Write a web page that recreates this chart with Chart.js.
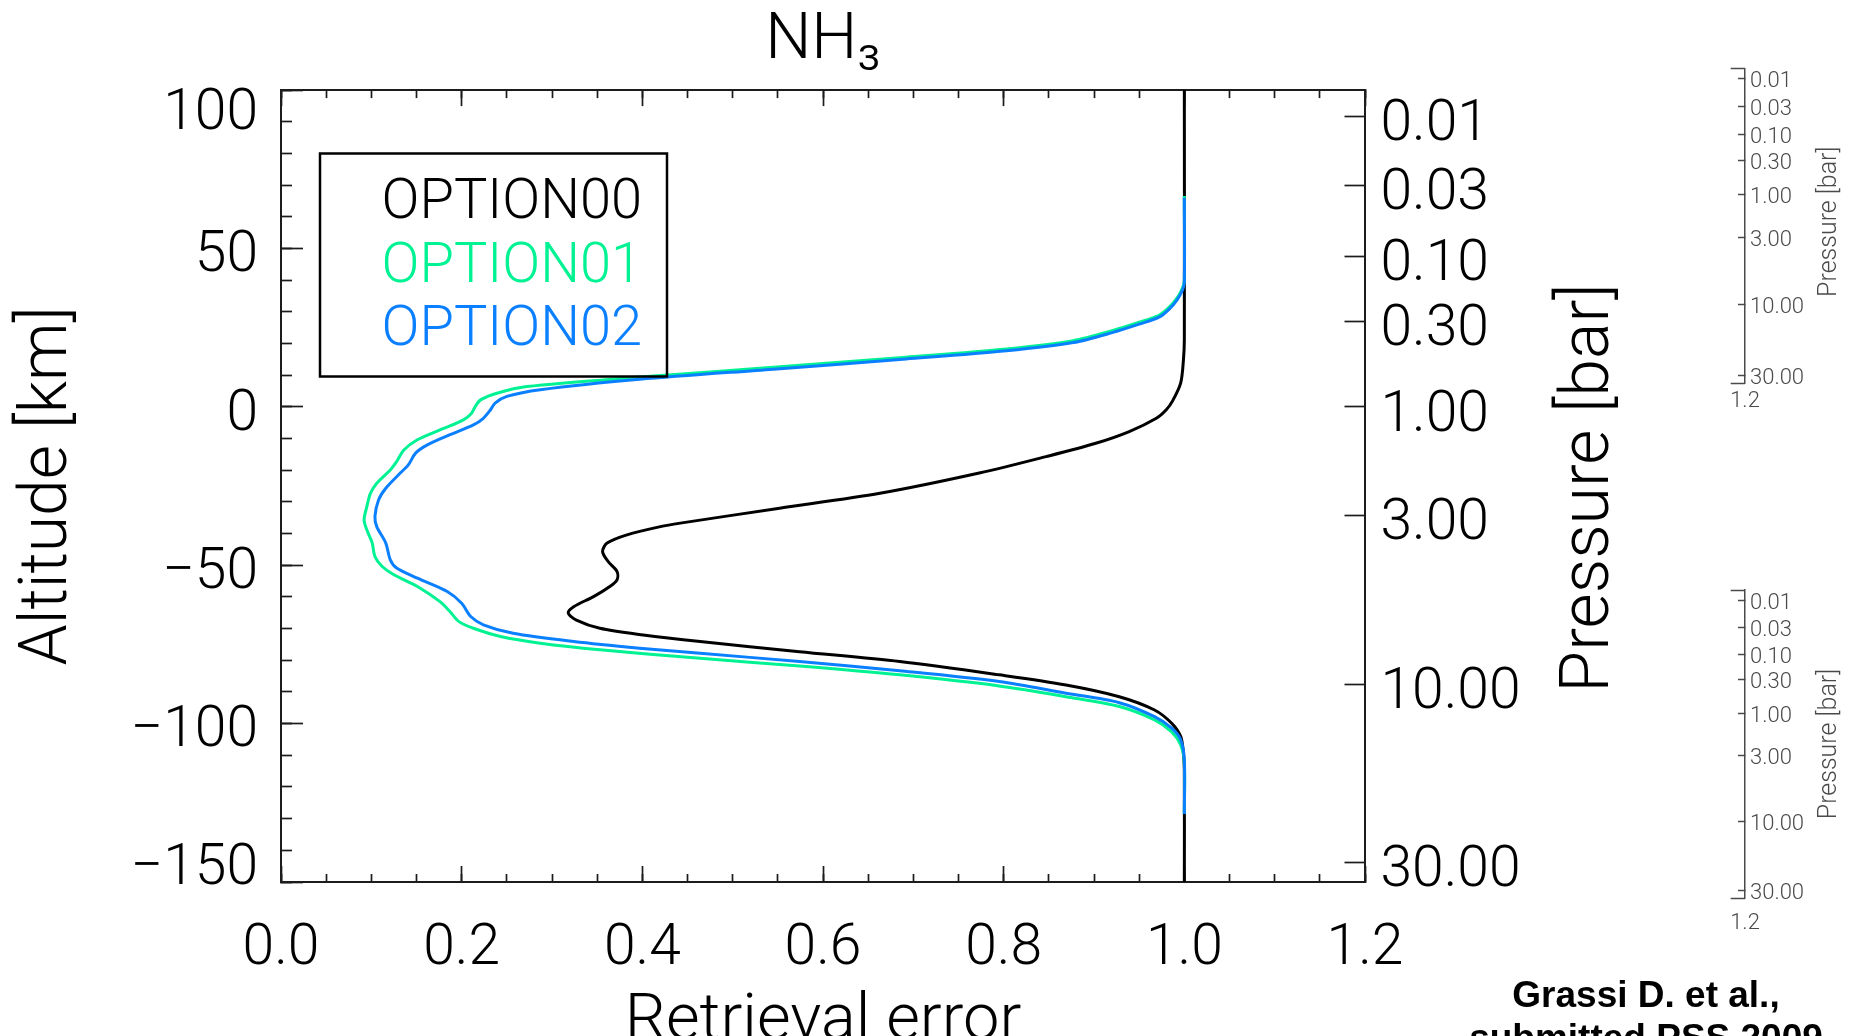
<!DOCTYPE html>
<html>
<head>
<meta charset="utf-8">
<script src="https://cdn.jsdelivr.net/npm/chart.js@4.4.1/dist/chart.umd.min.js"></script>
<style>
html,body{margin:0;padding:0;background:#fff;overflow:hidden;width:1849px;height:1036px;}
canvas{position:absolute;}
#main{left:0;top:0;}
#insetA{left:1690px;top:40px;}
#insetB{left:1690px;top:560px;}
</style>
</head>
<body>
<canvas id="main" width="1849" height="1036"></canvas>
<canvas id="insetA" width="159" height="380"></canvas>
<canvas id="insetB" width="159" height="380"></canvas>
<script>
// ---------------- data ----------------
const seriesLabels = ['OPTION00', 'OPTION01', 'OPTION02'];
const seriesColors = ['#000000', '#00f293', '#0a7fff'];

const errorTicks = [0, 0.2, 0.4, 0.6, 0.8, 1.0, 1.2];
const errorTickLabels = ['0.0', '0.2', '0.4', '0.6', '0.8', '1.0', '1.2'];
const altitudeTicks = [100, 50, 0, -50, -100, -150];
const altitudeTickLabels = ['100', '50', '0', '\u221250', '\u2212100', '\u2212150'];
const pressureTickLabels = ['0.01', '0.03', '0.10', '0.30', '1.00', '3.00', '10.00', '30.00'];
const pressureTickAltitudes = [91.7, 69.9, 47.5, 27.1, 0, -34.2, -87.6, -143.7];

// OPTION00 (black)
const opt00Err = [1.000, 1.000, 0.999, 0.996, 0.987, 0.980, 0.969, 0.939, 0.902, 0.847,
  0.773, 0.663, 0.552, 0.442, 0.420, 0.383, 0.361, 0.356, 0.362, 0.372,
  0.372, 0.364, 0.346, 0.324, 0.318, 0.327, 0.353, 0.401, 0.464, 0.574,
  0.685, 0.795, 0.869, 0.928, 0.967, 0.986, 0.996, 0.999, 1.000, 1.000];
const opt00Alt = [100, 21.2, 14.8, 7.6, 1.9, -0.9, -3.6, -7.8, -11.5, -15.7,
  -20.9, -27.3, -32.0, -36.7, -37.8, -40.4, -43.0, -45.7, -48.8, -52.0,
  -54.6, -56.7, -59.9, -63.1, -65.1, -67.3, -69.9, -72.0, -74.1, -77.3,
  -80.4, -84.6, -87.8, -91.5, -95.7, -99.9, -104.1, -109.3, -114.6, -150];

// OPTION01 (green)
const opt01Err = [1.000, 1.000, 0.998, 0.992, 0.983, 0.972, 0.950, 0.921, 0.877, 0.803,
  0.692, 0.545, 0.397, 0.272, 0.239, 0.221, 0.215, 0.211, 0.202, 0.176,
  0.151, 0.136, 0.128, 0.121, 0.106, 0.099, 0.095, 0.092, 0.095, 0.101,
  0.104, 0.112, 0.125, 0.151, 0.176, 0.187, 0.197, 0.213, 0.243, 0.287,
  0.353, 0.464, 0.574, 0.685, 0.795, 0.869, 0.928, 0.967, 0.986, 0.996,
  1.000, 1.000];
const opt01Alt = [66.6, 39.8, 37.6, 34.4, 31.4, 28.9, 26.7, 24.1, 20.9, 18.3,
  15.7, 12.5, 9.4, 6.4, 4.3, 2.2, 0.1, -2.0, -4.1, -7.3,
  -10.4, -13.6, -17.3, -19.9, -24.1, -27.3, -31.5, -35.7, -38.8, -43.0,
  -47.3, -50.4, -53.0, -56.7, -61.5, -64.6, -67.8, -69.9, -72.5, -74.6,
  -76.7, -79.4, -81.8, -84.6, -88.1, -91.5, -94.6, -98.8, -102.6, -106.7,
  -112.4, -128.5];

// OPTION02 (blue)
const opt02Err = [1.000, 1.000, 0.998, 0.992, 0.983, 0.972, 0.950, 0.921, 0.877, 0.803,
  0.692, 0.545, 0.397, 0.287, 0.250, 0.237, 0.232, 0.224, 0.213, 0.187,
  0.162, 0.149, 0.141, 0.132, 0.116, 0.108, 0.104, 0.106, 0.116, 0.121,
  0.128, 0.151, 0.184, 0.200, 0.210, 0.224, 0.257, 0.324, 0.397, 0.464,
  0.574, 0.685, 0.795, 0.869, 0.928, 0.967, 0.986, 0.996, 1.000, 1.000];
const opt02Alt = [66.0, 39.2, 36.9, 33.8, 30.8, 28.3, 26.1, 23.5, 20.3, 17.7,
  15.1, 11.9, 8.7, 5.4, 3.3, 1.2, -0.9, -3.6, -5.7, -8.8,
  -12.0, -14.6, -18.3, -20.9, -25.7, -29.4, -34.6, -37.8, -43.0, -48.3,
  -50.9, -54.1, -58.3, -62.0, -66.2, -68.8, -71.5, -74.1, -76.2, -77.8,
  -80.4, -83.3, -86.7, -90.4, -93.4, -97.8, -101.4, -105.1, -111.5, -128.5];

// ---------------- helpers ----------------
const FONT = 'Roboto, "DejaVu Sans", sans-serif';
Chart.defaults.font.family = FONT;
Chart.defaults.font.weight = '300';
Chart.defaults.color = '#000';

const FRAME = '#1c1c1c';
const INSET = '#4a4a4a';
const W = 1849, H = 1036;
const AREA = { left: 281, right: 1365, top: 90, bottom: 882 };
const TICK_FONT = 57;

function pts(xs, ys) { return xs.map((x, i) => ({ x: x, y: ys[i] })); }
function setTicks(values) { return s => { s.ticks = values.map(v => ({ value: v })); }; }
function stepTicks(step) {
  return s => {
    const n = Math.round((s.max - s.min) / step);
    const t = [];
    for (let i = 0; i <= n; i++) t.push({ value: s.min + i * step });
    s.ticks = t;
  };
}
function fixW(w) { return s => { s.width = w; }; }
function fixH(h) { return s => { s.height = h; }; }

const extraTextPlugin = {
  id: 'extraText',
  afterDraw(chart, args, opts) {
    const ctx = chart.ctx;
    (opts.items || []).forEach(it => {
      ctx.save();
      ctx.translate(it.x, it.y);
      ctx.rotate(it.rotation || 0);
      ctx.font = it.font;
      ctx.fillStyle = it.color || '#000';
      ctx.textAlign = it.align || 'center';
      ctx.textBaseline = it.baseline || 'middle';
      ctx.fillText(it.text, 0, 0);
      ctx.restore();
    });
  }
};

const boxLegendPlugin = {
  id: 'boxLegend',
  afterDraw(chart, args, o) {
    const ctx = chart.ctx;
    ctx.save();
    ctx.lineWidth = o.lineWidth;
    ctx.strokeStyle = o.borderColor;
    ctx.strokeRect(o.left, o.top, o.width, o.height);
    ctx.font = o.font;
    ctx.textAlign = 'left';
    ctx.textBaseline = 'middle';
    chart.data.datasets.forEach((ds, i) => {
      ctx.fillStyle = ds.borderColor;
      ctx.fillText(ds.label, o.textX, o.firstY + i * o.rowStep);
    });
    ctx.restore();
  }
};

// tick-mark only axis
function tickAxis(position, min, max, build, len, border, weight) {
  const horizontal = position === 'top' || position === 'bottom';
  return {
    type: 'linear', position: position, weight: weight || 0, min: min, max: max,
    afterBuildTicks: build,
    afterFit: horizontal ? fixH(0) : fixW(0),
    ticks: { display: false },
    grid: { display: true, drawOnChartArea: false, drawTicks: true, tickLength: len, tickWidth: 1.7, tickColor: FRAME },
    border: { display: border, color: FRAME, width: 2 }
  };
}

// ---------------- main chart ----------------
const edgeShiftTop = 7.7;     // km, keeps extreme altitude labels inside the frame
const edgeShiftBottom = 3.9;  // km
const baseShift = 2.7;        // km

new Chart(document.getElementById('main'), {
  type: 'scatter',
  data: {
    datasets: [
      { label: seriesLabels[0], data: pts(opt00Err, opt00Alt), borderColor: seriesColors[0], order: 3 },
      { label: seriesLabels[1], data: pts(opt01Err, opt01Alt), borderColor: seriesColors[1], order: 2 },
      { label: seriesLabels[2], data: pts(opt02Err, opt02Alt), borderColor: seriesColors[2], order: 1 }
    ].map(d => Object.assign(d, {
      showLine: true, pointRadius: 0, borderWidth: 3, tension: 0.3, fill: false,
      xAxisID: 'x', yAxisID: 'y'
    }))
  },
  options: {
    responsive: false, animation: false, devicePixelRatio: 1, events: [],
    layout: { padding: 0 },
    plugins: {
      legend: { display: false },
      tooltip: { enabled: false },
      title: {
        display: true, text: 'NH\u2083', fullSize: false, color: '#000',
        font: { size: 65, weight: '300', lineHeight: 1.14 },
        padding: { top: 5, bottom: 11 }
      },
      boxLegend: {
        left: 320, top: 153.5, width: 347, height: 223, lineWidth: 2.5, borderColor: '#000',
        font: '300 56px ' + FONT, textX: 381.5, firstY: 204, rowStep: 63.7
      },
      extraText: {
        items: [
          { text: 'Pressure [bar]', x: 1591, y: 488, rotation: -Math.PI / 2, font: '300 68px ' + FONT },
          { text: 'Grassi D. et al.,', x: 1646, y: 1006.5, baseline: 'alphabetic', font: 'bold 37px "Liberation Sans", Arial, sans-serif' },
          { text: 'submitted PSS 2009', x: 1646, y: 1050, baseline: 'alphabetic', font: 'bold 37px "Liberation Sans", Arial, sans-serif' }
        ]
      }
    },
    scales: {
      x: {
        type: 'linear', position: 'bottom', weight: 10, min: 0, max: 1.2,
        afterBuildTicks: setTicks(errorTicks),
        afterFit: fixH(H - AREA.bottom),
        ticks: { autoSkip: false, minRotation: 0, maxRotation: 0, font: { size: TICK_FONT }, padding: 49.6,
                 callback: (v, i) => errorTickLabels[i] },
        grid: { display: true, drawOnChartArea: false, drawTicks: true, tickLength: -16, tickWidth: 1.7, tickColor: FRAME },
        border: { display: true, color: FRAME, width: 2 },
        title: { display: true, text: 'Retrieval error', color: '#000', font: { size: 65, lineHeight: 0.4 }, padding: 0 }
      },
      xMinor: tickAxis('bottom', 0, 1.2, stepTicks(0.05), -8, false),
      xTop: tickAxis('top', 0, 1.2, setTicks(errorTicks), -16, true),
      xTopMinor: tickAxis('top', 0, 1.2, stepTicks(0.05), -8, false),
      y: tickAxis('left', -150, 100, setTicks(altitudeTicks), -22, true),
      yMinor: tickAxis('left', -150, 100, stepTicks(10), -11, false),
      yLab: {
        type: 'linear', position: 'left', weight: 10, min: -150, max: 100,
        afterBuildTicks: s => {
          s.ticks = altitudeTicks.map(v => ({
            value: v === s.max ? v - edgeShiftTop : (v === s.min ? v + edgeShiftBottom : v - baseShift)
          }));
        },
        afterFit: fixW(AREA.left),
        ticks: { autoSkip: false, font: { size: TICK_FONT }, padding: 23, callback: (v, i) => altitudeTickLabels[i] },
        grid: { display: false, drawTicks: false },
        border: { display: false },
        title: { display: true, text: 'Altitude [km]', color: '#000', font: { size: 66 }, padding: { top: 10, bottom: 0 } }
      },
      yR: {
        type: 'linear', position: 'right', min: -150, max: 100,
        afterBuildTicks: setTicks(pressureTickAltitudes),
        afterFit: fixW(W - AREA.right),
        ticks: { autoSkip: false, font: { size: TICK_FONT }, padding: 36, labelOffset: 9.5,
                 callback: (v, i) => pressureTickLabels[i] },
        grid: { display: true, drawOnChartArea: false, drawTicks: true, tickLength: -20.5, tickWidth: 1.7, tickColor: FRAME },
        border: { display: true, color: FRAME, width: 2 }
      }
    }
  },
  plugins: [boxLegendPlugin, extraTextPlugin]
});

// ---------------- small pressure scales at the right ----------------
function makeInset(id, o) {
  new Chart(document.getElementById(id), {
    type: 'scatter',
    data: { datasets: [{ data: [], xAxisID: 'x', yAxisID: 'p' }] },
    options: {
      responsive: false, animation: false, devicePixelRatio: 1, events: [],
      layout: { padding: { left: 25, top: o.top, right: 0, bottom: 0 } },
      plugins: {
        legend: { display: false }, tooltip: { enabled: false }, title: { display: false },
        extraText: { items: [
          { text: 'Pressure [bar]', x: 140, y: o.titleY, rotation: -Math.PI / 2, font: '300 25px ' + FONT, color: INSET }
        ] }
      },
      scales: {
        x: {
          type: 'linear', position: 'bottom', min: 0, max: 1.2,
          afterBuildTicks: setTicks([errorTicks[errorTicks.length - 1]]),
          afterFit: fixH(380 - o.bottom),
          ticks: { autoSkip: false, minRotation: 0, maxRotation: 0, font: { size: 22 }, color: INSET, padding: o.labPad,
                   callback: () => errorTickLabels[errorTickLabels.length - 1] },
          grid: { display: false, drawTicks: false },
          border: { display: false }
        },
        caps: {
          type: 'linear', position: 'right', weight: 0, min: -150, max: 100,
          afterBuildTicks: setTicks([altitudeTicks[0], altitudeTicks[altitudeTicks.length - 1]]),
          afterFit: fixW(0),
          ticks: { display: false },
          grid: { display: true, drawOnChartArea: false, drawTicks: true, tickLength: -14.3, tickWidth: 1.5, tickColor: INSET },
          border: { display: false }
        },
        p: {
          type: 'linear', position: 'right', weight: 1, min: -150, max: 100,
          afterBuildTicks: setTicks(pressureTickAltitudes),
          afterFit: fixW(159 - 55),
          ticks: { autoSkip: false, font: { size: 22 }, color: INSET, padding: 12, labelOffset: 3,
                   callback: (v, i) => pressureTickLabels[i] },
          grid: { display: true, drawOnChartArea: false, drawTicks: true, tickLength: -7, tickWidth: 1.5, tickColor: INSET },
          border: { display: true, color: INSET, width: 1.5 }
        }
      }
    },
    plugins: [extraTextPlugin]
  });
}
makeInset('insetA', { top: 28.3, bottom: 343.3, labPad: 4.7, titleY: 181.7 });
makeInset('insetB', { top: 30, bottom: 338.3, labPad: 12.2, titleY: 184 });
</script>
</body>
</html>
